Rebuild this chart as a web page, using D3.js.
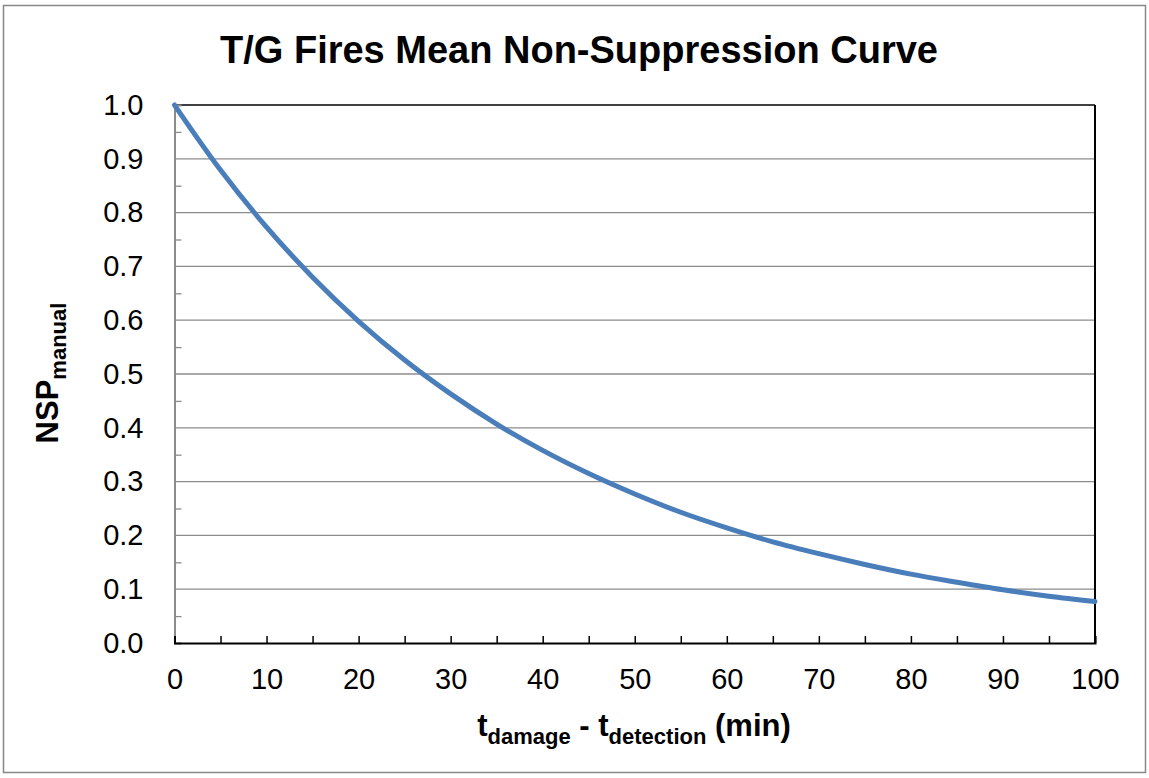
<!DOCTYPE html>
<html>
<head>
<meta charset="utf-8">
<script src="https://cdn.jsdelivr.net/npm/d3@7"></script>
<style>
  body { margin: 0; background: #fff; }
  svg { display: block; font-family: "Liberation Sans", Arial, sans-serif; }
</style>
</head>
<body>
<svg width="1149" height="778"></svg>
<script>
// values
var minutes = [0, 5, 10, 15, 20, 25, 30, 35, 40, 45, 50, 55, 60, 65, 70, 75, 80, 85, 90, 95, 100];
var nsp = [1.000, 0.879, 0.773, 0.680, 0.598, 0.526, 0.463, 0.407, 0.358, 0.315, 0.277, 0.243,
           0.214, 0.188, 0.166, 0.146, 0.128, 0.113, 0.099, 0.087, 0.077];
var xTicks = [0, 10, 20, 30, 40, 50, 60, 70, 80, 90, 100];
var yTicks = [0, 0.1, 0.2, 0.3, 0.4, 0.5, 0.6, 0.7, 0.8, 0.9, 1.0];

var svg = d3.select("svg");
var pLeft = 174.5, pRight = 1095, pTop = 105, pBottom = 643;

// outer frame
svg.append("rect").attr("x", 3.5).attr("y", 5.5).attr("width", 1142).attr("height", 767)
   .attr("fill", "#fff").attr("stroke", "#888").attr("stroke-width", 1.5);

var x = d3.scaleLinear().domain([0, 100]).range([pLeft, pRight]);
var y = d3.scaleLinear().domain([0, 1]).range([pBottom, pTop]);

var g = svg.append("g");

// gridlines
g.selectAll(".grid").data(yTicks.filter(function(d){ return d > 0 && d < 1; }))
  .enter().append("line")
  .attr("x1", pLeft).attr("x2", pRight)
  .attr("y1", function(d){ return y(d); }).attr("y2", function(d){ return y(d); })
  .attr("stroke", "#8c8c8c").attr("stroke-width", 1.3);

// plot border: top and right black
g.append("line").attr("x1", pLeft).attr("x2", pRight).attr("y1", pTop).attr("y2", pTop)
  .attr("stroke", "#000").attr("stroke-width", 1.5);
g.append("line").attr("x1", pRight).attr("x2", pRight).attr("y1", pTop).attr("y2", pBottom)
  .attr("stroke", "#000").attr("stroke-width", 2);

// y axis (gray) with minor ticks inside
var yAxis = g.append("g").attr("transform", "translate(" + pLeft + ",0)")
  .call(d3.axisRight(y).tickValues(d3.range(0.05, 1, 0.1)).tickSize(7).tickFormat(""));
yAxis.select(".domain").attr("stroke", "#8c8c8c").attr("stroke-width", 2);
yAxis.selectAll(".tick line").attr("stroke", "#8c8c8c").attr("stroke-width", 1.3);

var yLabels = g.append("g").attr("transform", "translate(" + (pLeft - 28) + ",0)")
  .call(d3.axisLeft(y).tickValues(yTicks).tickSize(0).tickFormat(d3.format(".1f")));
yLabels.select(".domain").remove();
yLabels.selectAll("text").attr("font-size", 29).attr("fill", "#000")
  .attr("font-family", "Liberation Sans, Arial, sans-serif");

// x axis (black) with ticks inside every 5
var xAxis = g.append("g").attr("transform", "translate(0," + pBottom + ")")
  .call(d3.axisTop(x).tickValues(minutes).tickSize(7).tickFormat(""));
xAxis.select(".domain").attr("stroke", "#000").attr("stroke-width", 2);
xAxis.selectAll(".tick line").attr("stroke", "#000").attr("stroke-width", 1.5);

var xLabels = g.append("g").attr("transform", "translate(0," + (pBottom + 22) + ")")
  .call(d3.axisBottom(x).tickValues(xTicks).tickSize(0).tickFormat(d3.format("d")));
xLabels.select(".domain").remove();
xLabels.selectAll("text").attr("font-size", 29).attr("fill", "#000")
  .attr("font-family", "Liberation Sans, Arial, sans-serif");

// curve
var pts = minutes.map(function(m, i){ return [m, nsp[i]]; });
var line = d3.line().x(function(d){ return x(d[0]); }).y(function(d){ return y(d[1]); })
  .curve(d3.curveMonotoneX);
g.append("path").datum(pts).attr("d", line).attr("fill", "none")
  .attr("stroke", "#4a7ebb").attr("stroke-width", 5).attr("stroke-linecap", "round");

// title
svg.append("text").attr("x", 579).attr("y", 63).attr("text-anchor", "middle")
  .attr("font-size", 38).attr("font-weight", "bold").text("T/G Fires Mean Non-Suppression Curve");

// x axis title
var xt = svg.append("text").attr("x", 634).attr("y", 736).attr("text-anchor", "middle")
  .attr("font-size", 31).attr("font-weight", "bold");
xt.append("tspan").text("t");
xt.append("tspan").attr("font-size", 22).attr("dy", 8).text("damage");
xt.append("tspan").attr("dy", -8).text(" - t");
xt.append("tspan").attr("font-size", 22).attr("dy", 8).text("detection");
xt.append("tspan").attr("dy", -8).text(" (min)");

// y axis title
var yt = svg.append("text").attr("transform", "translate(58,373) rotate(-90)")
  .attr("text-anchor", "middle").attr("font-size", 31).attr("font-weight", "bold");
yt.append("tspan").text("NSP");
yt.append("tspan").attr("font-size", 22).attr("dy", 8).text("manual");
</script>
</body>
</html>
